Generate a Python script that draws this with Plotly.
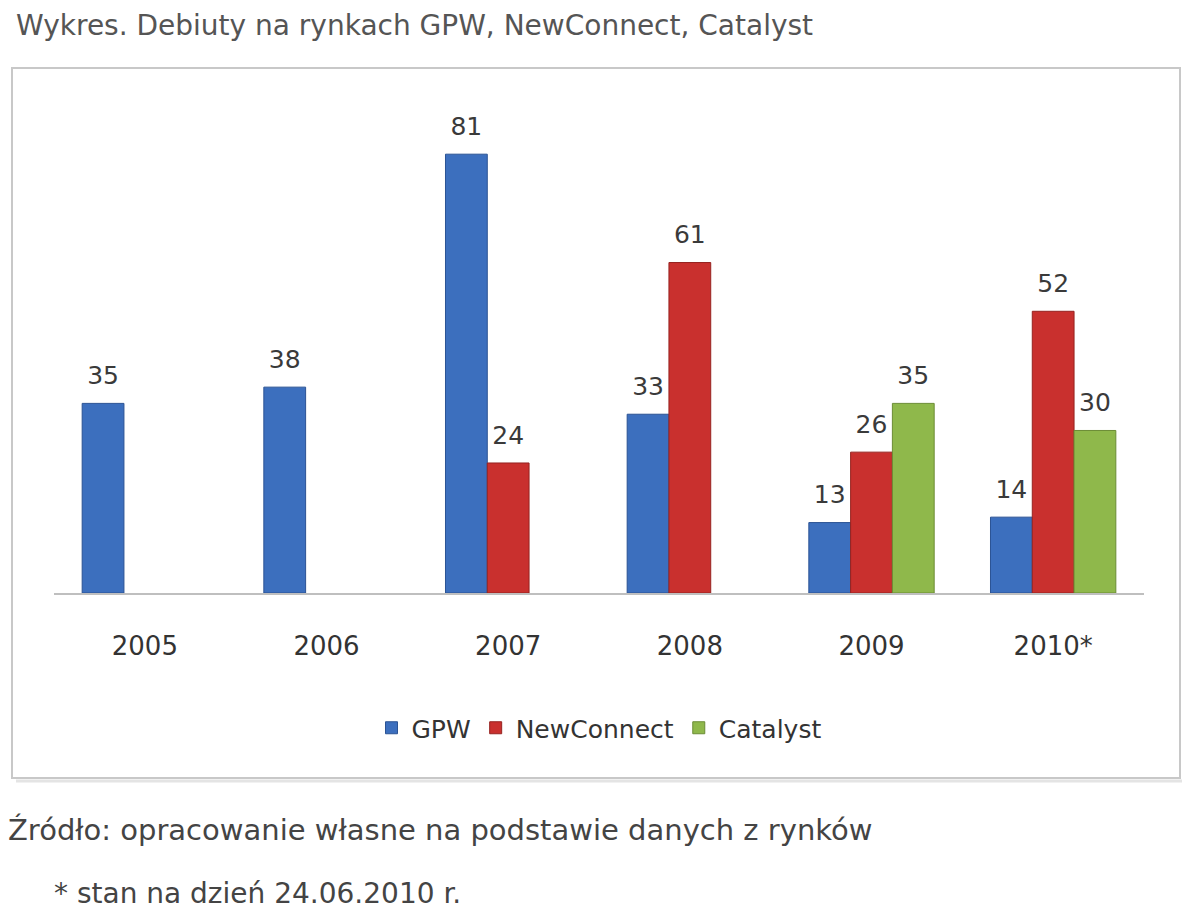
import plotly.graph_objects as go

# debiuty na rynkach
years = ["2005", "2006", "2007", "2008", "2009", "2010*"]
gpw = [35, 38, 81, 33, 13, 14]
newconnect = [None, None, 24, 61, 26, 52]
catalyst = [None, None, None, None, 35, 30]

# strona ma 8px marginesu body, wiec figura troche mniejsza
OFF = 8
W, H = 1200 - 2 * OFF, 923 - 2 * OFF
L, R, T, B = 54 - OFF, 56 - OFF, 100 - OFF, 330 - OFF
pw, ph = W - L - R, H - T - B


def px(x):
    return (x - OFF - L) / pw


def py(y):
    return (H - B - (y - OFF)) / ph


font = "DejaVu Sans"
series = [
    ("GPW", gpw, "#3c6fbe", "#2b5394"),
    ("NewConnect", newconnect, "#c9302e", "#962320"),
    ("Catalyst", catalyst, "#8fb84b", "#6b8c35"),
]

fig = go.Figure()
for name, vals, col, edge in series:
    fig.add_trace(
        go.Bar(
            x=years,
            y=vals,
            name=name,
            offsetgroup=name,
            marker=dict(color=col, line=dict(color=edge, width=1)),
        )
    )

# etykiety wartosci nad slupkami (troche wyzej niz domyslnie)
for name, vals, col, edge in series:
    fig.add_trace(
        go.Scatter(
            x=years,
            y=vals,
            mode="markers+text",
            text=[str(v) if v is not None else "" for v in vals],
            textposition="top center",
            textfont=dict(family=font, size=25, color="#3a3a3a"),
            marker=dict(size=19, opacity=0),
            offsetgroup=name,
            showlegend=False,
            hoverinfo="skip",
            cliponaxis=False,
        )
    )

fig.update_layout(
    width=W,
    height=H,
    margin=dict(l=L, r=R, t=T, b=B),
    paper_bgcolor="white",
    plot_bgcolor="white",
    barmode="group",
    bargap=0.31,
    bargroupgap=0,
    scattermode="group",
    scattergap=0.31,
    font=dict(family=font, color="#333333"),
    legend=dict(
        orientation="h",
        x=0.5,
        xanchor="center",
        y=py(728),
        yanchor="middle",
        font=dict(size=25, color="#333333"),
        itemwidth=30,
    ),
    xaxis=dict(
        showline=True,
        linecolor="#bfbfbf",
        linewidth=1.5,
        showgrid=False,
        ticks="",
        tickfont=dict(size=26, color="#333333"),
        ticklabelstandoff=29,
    ),
    yaxis=dict(
        range=[0, 91],
        visible=False,
        showgrid=False,
    ),
    shapes=[
        dict(
            type="rect",
            xref="paper",
            yref="paper",
            x0=px(12),
            x1=px(1180),
            y0=py(778),
            y1=py(68),
            line=dict(color="#c8c8c8", width=2),
            layer="below",
        ),
        dict(
            type="line",
            xref="paper",
            yref="paper",
            x0=px(16),
            x1=px(1182),
            y0=py(781),
            y1=py(781),
            line=dict(color="#e4e4e4", width=3),
            layer="below",
        ),
    ],
    annotations=[
        dict(
            text="Wykres. Debiuty na rynkach GPW, NewConnect, Catalyst",
            xref="paper",
            yref="paper",
            x=px(14),
            y=py(26),
            xanchor="left",
            yanchor="middle",
            showarrow=False,
            font=dict(size=28, color="#555555"),
        ),
        dict(
            text="Źródło: opracowanie własne na podstawie danych z rynków",
            xref="paper",
            yref="paper",
            x=px(6),
            y=py(830),
            xanchor="left",
            yanchor="middle",
            showarrow=False,
            font=dict(size=29, color="#444444"),
        ),
        dict(
            text="* stan na dzień 24.06.2010 r.",
            xref="paper",
            yref="paper",
            x=px(52),
            y=py(893),
            xanchor="left",
            yanchor="middle",
            showarrow=False,
            font=dict(size=28, color="#444444"),
        ),
    ],
)

fig.write_html("out.html")
